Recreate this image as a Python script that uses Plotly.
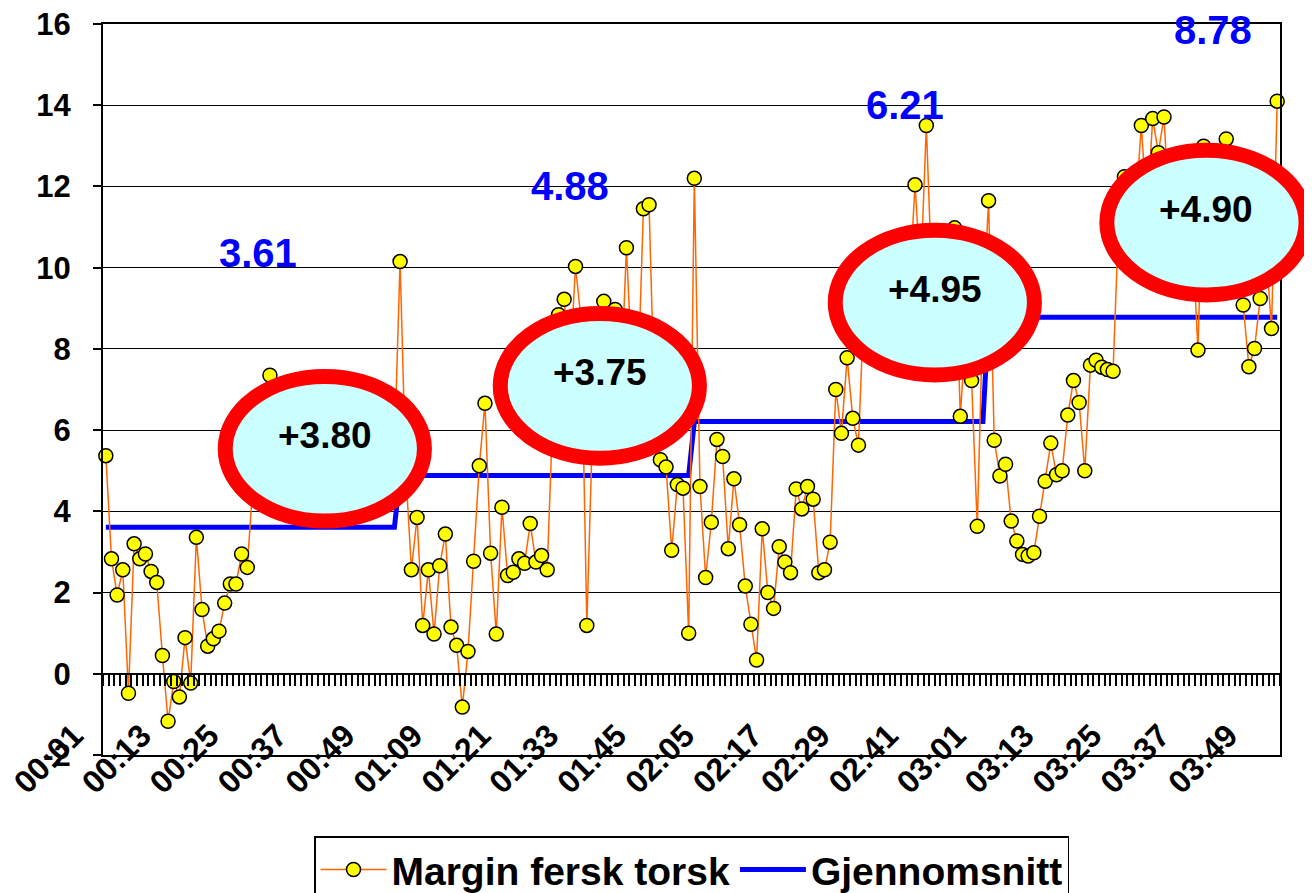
import plotly.graph_objects as go

# ---- data -------------------------------------------------------------
years = ["00", "01", "02", "03"]
weeks_per_year = 52
categories = [f"{y}:{w:02d}" for y in years for w in range(1, weeks_per_year + 1)]

tick_labels = ["00:01", "00:13", "00:25", "00:37", "00:49", "01:09", "01:21", "01:33",
               "01:45", "02:05", "02:17", "02:29", "02:41", "03:01", "03:13", "03:25",
               "03:37", "03:49"]

y_ticks = [-2, 0, 2, 4, 6, 8, 10, 12, 14, 16]

margin_00 = [5.37, 2.83, 1.94, 2.56, -0.48, 3.20, 2.83, 2.95, 2.52, 2.25, 0.45, -1.17, -0.19,
             -0.57, 0.89, -0.23, 3.36, 1.58, 0.68, 0.86, 1.05, 1.74, 2.21, 2.21, 2.95, 2.62,
             4.70, 5.60, 6.30, 7.35, 5.80, 4.90, 5.20, 6.10, 5.40, 4.70, 5.00, 5.90, 6.40,
             5.70, 4.90, 5.30, 6.00, 5.60, 5.10, 4.60, 5.50, 6.20, 5.80, 5.20, 5.00, 5.50]
margin_01 = [10.15, 5.00, 2.56, 3.85, 1.19, 2.56, 0.98, 2.66, 3.44, 1.15, 0.70, -0.82, 0.55,
             2.77, 5.12, 6.66, 2.97, 0.98, 4.10, 2.42, 2.50, 2.83, 2.72, 3.70, 2.75, 2.91,
             2.56, 6.40, 8.84, 9.22, 7.50, 10.03, 8.70, 1.19, 6.00, 7.00, 9.17, 7.50, 8.97,
             7.00, 10.49, 7.50, 7.00, 11.45, 11.55, 6.50, 5.27, 5.09, 3.04, 4.66, 4.57, 1.00]
margin_02 = [12.20, 4.61, 2.37, 3.73, 5.77, 5.35, 3.08, 4.80, 3.67, 2.16, 1.22, 0.34, 3.57,
             2.00, 1.61, 3.13, 2.75, 2.49, 4.55, 4.06, 4.61, 4.30, 2.49, 2.56, 3.24, 7.00,
             5.92, 7.78, 6.29, 5.63, 9.20, 8.50, 9.40, 8.80, 9.60, 8.90, 9.30, 10.00, 9.50,
             12.04, 9.80, 13.50, 9.60, 8.70, 9.00, 9.40, 10.98, 6.34, 8.50, 7.22, 3.63, 8.90]
margin_03 = [11.65, 5.75, 4.87, 5.16, 3.76, 3.27, 2.94, 2.90, 2.98, 3.88, 4.74, 5.68, 4.90,
             5.00, 6.37, 7.22, 6.68, 5.00, 7.60, 7.72, 7.55, 7.49, 7.45, 11.20, 12.24, 11.00,
             11.50, 13.50, 11.30, 13.67, 12.83, 13.71, 11.20, 10.50, 11.00, 10.20, 10.80,
             7.97, 12.99, 11.50, 10.80, 11.30, 13.17, 11.00, 10.50, 9.08, 7.56, 8.01, 9.24,
             10.50, 8.50, 14.10]

average_values = [3.61, 4.88, 6.21, 8.78]
change_labels = ["+3.80", "+3.75", "+4.95", "+4.90"]

margin = margin_00 + margin_01 + margin_02 + margin_03
average = []
for a in average_values:
    average += [a] * weeks_per_year

# ---- styling / placement ------------------------------------------------
N = len(categories)
FONT = "Liberation Sans, Arial, sans-serif"
Y_MIN, Y_MAX = -2, 16

# average labels (category position, value)
avg_label_pos = [(26.9, 10.37), (82.0, 12.0), (141.2, 14.0), (195.6, 15.85)]
# ellipses: centre (category pos, value), half width (categories), half height (value)
ellipses = [(38.7, 5.54), (87.3, 7.09), (146.5, 9.14), (194.5, 11.11)]
ell_hx, ell_hy = 17.6, 1.78
ell_text_dy = 0.33


def px(i):
    return (i + 0.5) / N


def py(v):
    return (v - Y_MIN) / (Y_MAX - Y_MIN)


fig = go.Figure()

fig.add_trace(go.Scatter(
    x=categories, y=average, name="Gjennomsnitt", mode="lines",
    line=dict(color="#0000FF", width=5), xaxis="x", yaxis="y", legendrank=2,
))
fig.add_trace(go.Scatter(
    x=categories, y=margin, name="Margin fersk torsk", mode="lines+markers",
    line=dict(color="#FF6600", width=1.5),
    marker=dict(symbol="circle", size=14, color="#FFFF00",
                line=dict(color="black", width=1.5)),
    xaxis="x2", yaxis="y", legendrank=1, cliponaxis=False,
))

shapes = []
annotations = []
for (cx, cy), txt in zip(ellipses, change_labels):
    shapes.append(dict(
        type="circle", xref="paper", yref="paper", layer="above",
        x0=px(cx - ell_hx), x1=px(cx + ell_hx), y0=py(cy - ell_hy), y1=py(cy + ell_hy),
        line=dict(color="#FF0000", width=15), fillcolor="#CCFFFF",
    ))
    annotations.append(dict(
        x=cx, y=cy + ell_text_dy, xref="x2", yref="y", text=txt, showarrow=False,
        font=dict(family=FONT, size=37, color="black", weight="bold"),
    ))

for (ax, ay), a in zip(avg_label_pos, average_values):
    annotations.append(dict(
        x=ax, y=ay, xref="x2", yref="y", text=f"{a:.2f}", showarrow=False,
        font=dict(family=FONT, size=40, color="#0000FF", weight="bold"),
    ))

# the page body has an 8px default margin, so the figure is 8px smaller than the window
fig.update_layout(
    width=1304, height=885, autosize=False,
    margin=dict(l=95, r=32, t=16, b=138, autoexpand=False),
    paper_bgcolor="white", plot_bgcolor="white",
    font=dict(family=FONT, color="black"),
    showlegend=True,
    legend=dict(
        orientation="h", x=0.5, xanchor="center", y=-0.111, yanchor="top",
        bordercolor="black", borderwidth=1.5, bgcolor="white",
        font=dict(family=FONT, size=39, color="black", weight="bold"),
        itemwidth=66,
    ),
    xaxis=dict(
        type="category", categoryorder="array", categoryarray=categories,
        range=[-0.5, N - 0.5], anchor="free", position=py(0),
        showline=True, linecolor="black", linewidth=1.5,
        ticks="outside", tickmode="linear", tick0=0, dtick=1, tickson="boundaries",
        ticklen=11, tickwidth=1.5, tickcolor="black",
        showticklabels=False, showgrid=False, zeroline=False, automargin=False,
    ),
    xaxis2=dict(
        type="category", categoryorder="array", categoryarray=categories,
        range=[-0.5, N - 0.5], overlaying="x", anchor="y", side="bottom",
        showline=True, linecolor="black", linewidth=2, mirror=True,
        ticks="", tickmode="array", tickvals=tick_labels, ticktext=tick_labels,
        tickangle=-45, showgrid=False, zeroline=False, automargin=False,
        ticklabelstandoff=-53, ticklabelshift=-32, ticklabeloverflow="allow",
        tickfont=dict(family=FONT, size=32, color="black", weight="bold"),
    ),
    yaxis=dict(
        range=[Y_MIN, Y_MAX], tickmode="array", tickvals=y_ticks,
        ticktext=[str(v) for v in y_ticks],
        showline=True, linecolor="black", linewidth=2, mirror=True,
        ticks="outside", ticklen=8, tickwidth=1.5, tickcolor="black",
        showgrid=True, gridcolor="black", gridwidth=1, zeroline=False, automargin=False,
        tickfont=dict(family=FONT, size=31, color="black", weight="bold"),
        ticklabelstandoff=16, ticklabeloverflow="allow",
    ),
    shapes=shapes, annotations=annotations,
)

fig.write_html("out.html")
